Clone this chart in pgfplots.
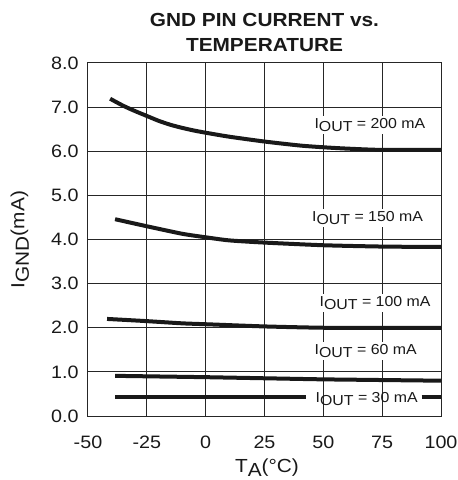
\documentclass[border=0pt]{standalone}
\usepackage{fontspec}
\setmainfont{Liberation Sans}[FakeStretch=1.1]
\usepackage{pgfplots}
\pgfplotsset{compat=1.18}
\newcommand{\sub}[1]{\raisebox{-0.45ex}{#1}}
\begin{document}
\begin{tikzpicture}
\begin{axis}[
  scale only axis, width=353bp, height=353bp,
  xmin=-50, xmax=100, ymin=0, ymax=8,
  xtick={-50,-25,0,25,50,75,100}, ytick={0,1,2,3,4,5,6,7,8},
  grid=major, grid style={black!85, line width=1bp},
  axis line style={black!85, line width=1bp},
  major tick style={draw=none},
  /pgf/number format/assume math mode=true,
  yticklabel style={/pgf/number format/fixed, /pgf/number format/fixed zerofill, /pgf/number format/precision=1, anchor=east, xshift=-6bp},
  xticklabel style={anchor=center, yshift=-26bp},
  ticklabel style={font=\fontsize{18}{18}\selectfont, text=black!90},
  title={GND PIN CURRENT vs.\\TEMPERATURE},
  title style={align=center, font=\bfseries\fontsize{19}{25}\selectfont, text=black!90, anchor=south, yshift=2bp},
  xlabel={T\sub{A}(°C)}, ylabel={I\sub{GND}(mA)},
  xlabel style={at={(axis description cs:0.507,-0.159)}, anchor=base},
  ylabel style={at={(axis description cs:-0.193,0.5)}, anchor=center},
  label style={font=\fontsize{19}{19}\selectfont, text=black!90},
  unbounded coords=jump,
]
\pgfplotsset{curve/.style={black!90, line width=4bp, line cap=butt, no markers}}
% 200 mA
\addplot[curve, smooth, tension=0.4] coordinates {(-40.6,7.19) (-35,7.03) (-30,6.91) (-25,6.80) (-20,6.69) (-15,6.60) (-10,6.53) (-5,6.47) (0,6.42) (10,6.33) (25,6.22) (40,6.13) (50,6.09) (60,6.06) (75,6.03) (100,6.03)};
% 150 mA
\addplot[curve, smooth, tension=0.4] coordinates {(-38.5,4.46) (-25,4.30) (-10,4.13) (0,4.05) (10,3.98) (25,3.93) (50,3.87) (75,3.84) (100,3.83)};
% 100 mA
\addplot[curve, smooth, tension=0.4] coordinates {(-41.9,2.20) (-25,2.15) (-10,2.10) (0,2.08) (25,2.03) (50,2.00) (75,2.00) (100,2.00)};
% 60 mA
\addplot[curve] coordinates {(-38.5,0.91) (0,0.88) (50,0.83) (100,0.80)};
% 30 mA
\addplot[curve] coordinates {(-38.5,0.43) (42.5,0.43) (67,nan) (91.8,0.43) (100,0.43)};

\begin{scope}[every node/.style={fill=white, inner sep=2bp, text=black!90, font=\fontsize{14.5}{15}\selectfont}]
\node at (axis cs:69.8,6.6) {I\sub{OUT} = 200 mA};
\node at (axis cs:68.8,4.49) {I\sub{OUT} = 150 mA};
\node at (axis cs:72,2.56) {I\sub{OUT} = 100 mA};
\node at (axis cs:68,1.47) {I\sub{OUT} = 60 mA};
\node[fill=none] at (axis cs:68.4,0.38) {I\sub{OUT} = 30 mA};
\end{scope}
\end{axis}
\pgfresetboundingbox
\path (current axis.south west) ++(-88bp,-64bp) rectangle ++(458bp,480bp);
\end{tikzpicture}
\end{document}
